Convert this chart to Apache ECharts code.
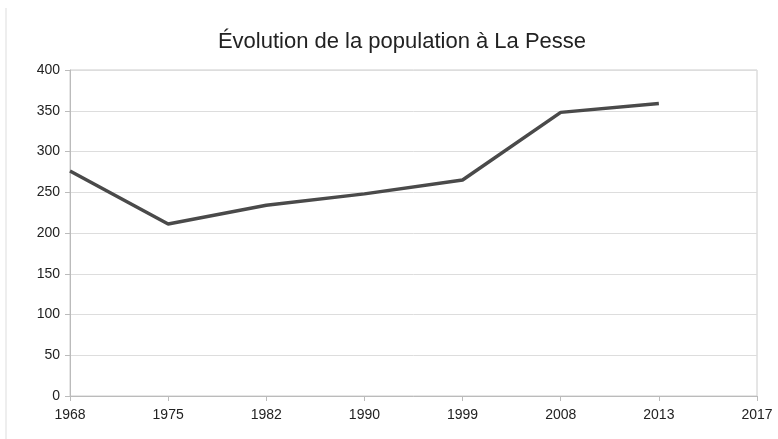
<!DOCTYPE html>
<html><head><meta charset="utf-8">
<script src="https://cdn.jsdelivr.net/npm/echarts@6/dist/echarts.min.js"></script>
<style>html,body{margin:0;padding:0;background:#fff}#c{width:778px;height:439px}</style>
</head><body><div id="c"></div>
<script>
const years = ['1968','1975','1982','1990','1999','2008','2013','2017'];
const population = [276, 211, 234, 248, 265, 348, 359];
const yTicks = [0, 50, 100, 150, 200, 250, 300, 350, 400];
const title = 'Évolution de la population à La Pesse';

const chart = echarts.init(document.getElementById('c'));
chart.setOption({
  backgroundColor: '#ffffff',
  animation: false,
  title: {
    text: title, left: 397, top: 26, textAlign: 'center',
    textStyle: {fontFamily: 'Liberation Sans', fontSize: 22, fontWeight: 'normal', color: '#222'}
  },
  graphic: [{type: 'line', shape: {x1: 6, y1: 8, x2: 6, y2: 439}, style: {stroke: '#ddd', lineWidth: 1}}],
  grid: {left: 70, right: 21, top: 70, bottom: 43, show: true, borderColor: '#ccc', borderWidth: 1},
  xAxis: {
    type: 'category', data: years, boundaryGap: false,
    axisLine: {lineStyle: {color: '#bbb'}},
    axisTick: {show: true, length: 5, lineStyle: {color: '#bbb'}},
    axisLabel: {fontFamily: 'Liberation Sans', fontSize: 14, color: '#222', margin: 12},
    splitLine: {show: false}
  },
  yAxis: {
    type: 'value', min: yTicks[0], max: yTicks[yTicks.length-1], interval: 50,
    axisLine: {show: true, lineStyle: {color: '#bbb'}},
    axisTick: {show: true, length: 5, lineStyle: {color: '#bbb'}},
    axisLabel: {fontFamily: 'Liberation Sans', fontSize: 14, color: '#222', margin: 10},
    splitLine: {lineStyle: {color: '#ddd', width: 1}}
  },
  series: [{
    type: 'line', data: population, symbol: 'none',
    lineStyle: {color: '#4a4a4a', width: 3.5}
  }]
});
</script></body></html>
